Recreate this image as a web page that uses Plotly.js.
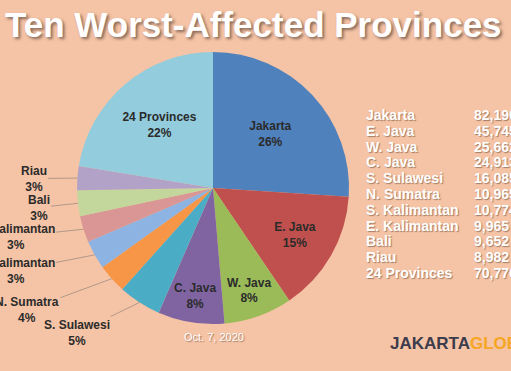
<!DOCTYPE html>
<html>
<head>
<meta charset="utf-8">
<script src="https://cdn.plot.ly/plotly-3.0.1.min.js"></script>
<style>html,body{margin:0;padding:0;background:#F5C3A5;}#chart{width:511px;height:371px;}</style>
</head>
<body>
<div id="chart"></div>
<script>
// Data
const provinces = ['Jakarta','E. Java','W. Java','C. Java','S. Sulawesi','N. Sumatra','S. Kalimantan','E. Kalimantan','Bali','Riau','24 Provinces'];
const cases = [82190, 45745, 25662, 24913, 16085, 10965, 10774, 9965, 9652, 8982, 70776];
const pctLabels = ['26%','15%','8%','8%','5%','4%','3%','3%','3%','3%','22%'];
const sliceColors = ['#4F81BD','#C0504D','#9BBB59','#8064A2','#4BACC6','#F79646','#8DB3E2','#D99694','#C3D69B','#B3A2C7','#93CDDD'];
const insideLabel = [true, true, true, true, false, false, false, false, false, false, true];
// outside label centers (px) for the small slices
const outsideLabelPos = {
  'S. Sulawesi': [77, 333],
  'N. Sumatra': [27, 310],
  'S. Kalimantan': [15, 270.5],
  'E. Kalimantan': [15, 236.5],
  'Bali': [38.5, 207.5],
  'Riau': [33.5, 178.5]
};

const W = 511, H = 371;
const domX = [0.1507, 0.6830];
const domY = [0.1267, 0.8598];
const cx = (domX[0] + domX[1]) / 2 * W;
const cy = (1 - (domY[0] + domY[1]) / 2) * H;
const R = Math.min((domX[1]-domX[0]) * W, (domY[1]-domY[0]) * H) / 2;

const labelFont = {family: 'Liberation Sans, Arial, sans-serif', size: 12, color: '#2b2b2b', weight: 'bold'};

const trace = {
  type: 'pie',
  labels: provinces,
  values: cases,
  customdata: pctLabels,
  sort: false,
  direction: 'clockwise',
  rotation: 0,
  domain: {x: domX, y: domY},
  marker: {colors: sliceColors, line: {width: 0}},
  textposition: insideLabel.map(v => v ? 'inside' : 'none'),
  insidetextorientation: 'horizontal',
  texttemplate: '%{label}<br>%{customdata}',
  textfont: labelFont,
  hoverinfo: 'none',
  showlegend: false
};

const annotations = [];
// Title
annotations.push({
  xref: 'paper', yref: 'paper', x: 253 / W, y: 1 - 25 / H, xanchor: 'center', yanchor: 'middle',
  text: '<b>Ten Worst-Affected Provinces</b>', showarrow: false,
  font: {family: 'Liberation Sans, Arial, sans-serif', size: 35, color: '#ffffff', shadow: '2px 2px 3px rgba(90,70,60,0.7)'}
});
// Outside labels with leader lines
const total = cases.reduce((a, b) => a + b, 0);
let cum = 0;
provinces.forEach((p, i) => {
  const mid = (cum + cases[i] / 2) / total * 2 * Math.PI;
  cum += cases[i];
  if (insideLabel[i]) return;
  const tx = cx + R * Math.sin(mid);
  const ty = cy - R * Math.cos(mid);
  const pos = outsideLabelPos[p];
  annotations.push({
    xref: 'paper', yref: 'paper', x: tx / W, y: 1 - ty / H,
    ax: pos[0] - tx, ay: pos[1] - ty, axref: 'pixel', ayref: 'pixel',
    text: p + '<br>' + pctLabels[i], showarrow: true, arrowhead: 0, arrowwidth: 0.8,
    arrowcolor: '#a08e84', standoff: 0, startstandoff: 0,
    font: labelFont, align: 'center'
  });
});
// Table on the right
provinces.forEach((p, i) => {
  const y = 115 + i * 15.8;
  const f = {family: 'Liberation Sans, Arial, sans-serif', size: 14, color: '#ffffff', weight: 'bold', shadow: '1px 1px 1px rgba(110,80,60,0.6)'};
  annotations.push({xref: 'paper', yref: 'paper', x: 364 / W, y: 1 - y / H, xanchor: 'left', yanchor: 'middle', text: p, showarrow: false, font: f});
  annotations.push({xref: 'paper', yref: 'paper', x: 472 / W, y: 1 - y / H, xanchor: 'left', yanchor: 'middle', text: cases[i].toLocaleString('en-US'), showarrow: false, font: f});
});
// Date
annotations.push({
  xref: 'paper', yref: 'paper', x: 214 / W, y: 1 - 337 / H, xanchor: 'center', yanchor: 'middle',
  text: 'Oct. 7, 2020', showarrow: false,
  font: {family: 'Liberation Sans, Arial, sans-serif', size: 11, color: '#ffffff', shadow: '1px 1px 1px rgba(110,80,60,0.6)'}
});
// Logo
annotations.push({
  xref: 'paper', yref: 'paper', x: 388 / W, y: 1 - 343 / H, xanchor: 'left', yanchor: 'middle',
  text: '<b>JAKARTA</b><span style="color:#F5A623"><b>GLOBE</b></span>', showarrow: false,
  font: {family: 'Liberation Sans, Arial, sans-serif', size: 17, color: '#3c3c4c'}
});

const layout = {
  width: W, height: H,
  margin: {l: 0, r: 0, t: 0, b: 0},
  paper_bgcolor: '#F5C3A5',
  plot_bgcolor: '#F5C3A5',
  showlegend: false,
  annotations: annotations
};

Plotly.newPlot('chart', [trace], layout, {displayModeBar: false, staticPlot: true});
</script>
</body>
</html>
